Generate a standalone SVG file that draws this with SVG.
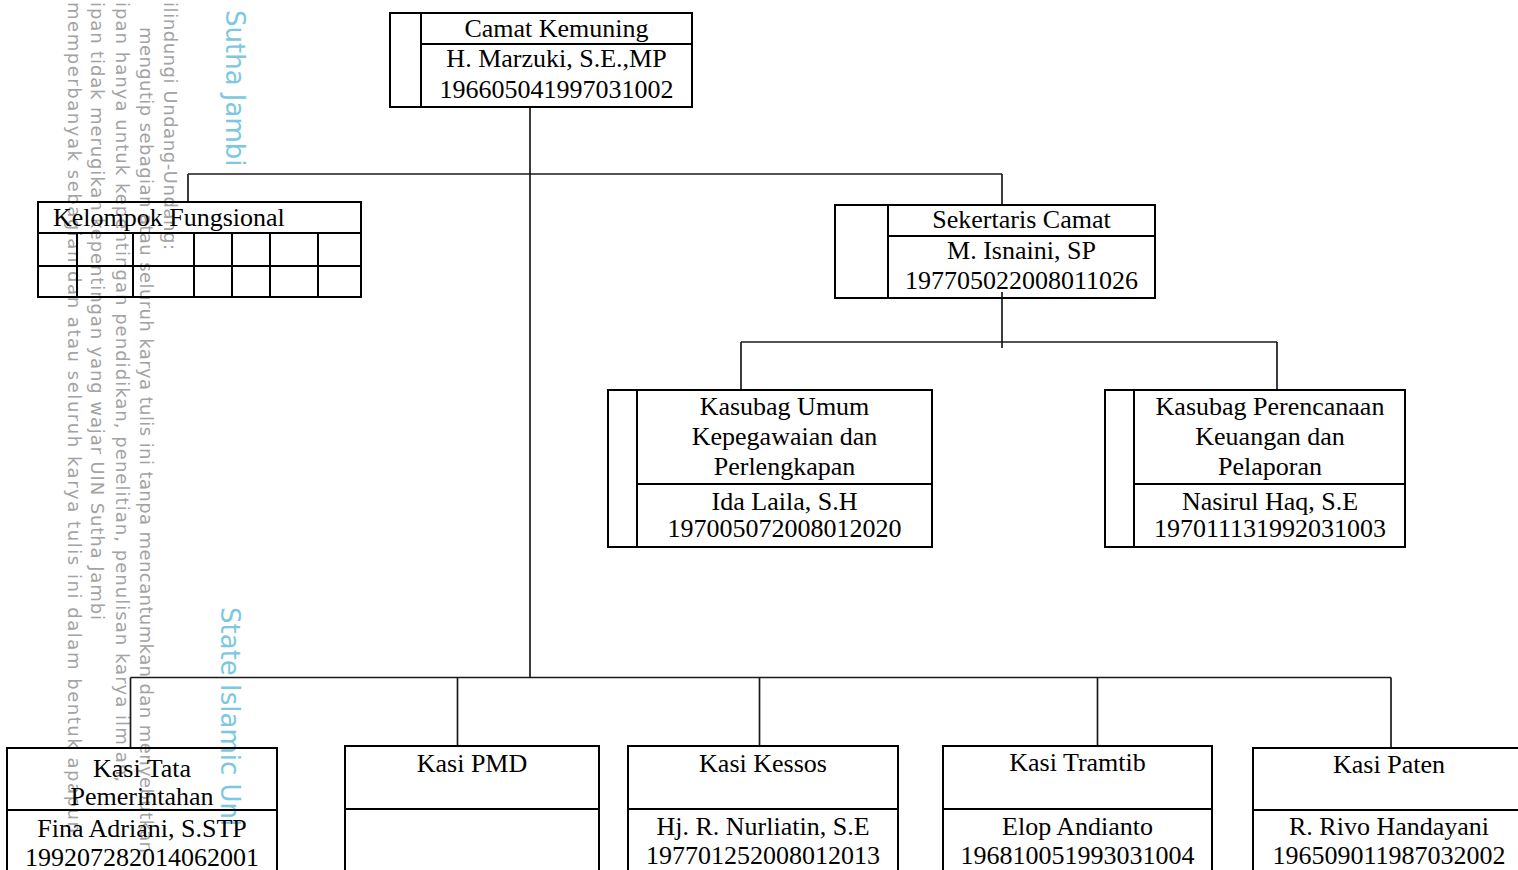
<svg xmlns="http://www.w3.org/2000/svg" width="1518" height="870" viewBox="0 0 1518 870">
<style>
.bg{fill:#ffffff}
.wm{font-family:"DejaVu Sans","Noto Sans",sans-serif;font-size:18px;fill:#a3a3a3}
.wb{font-family:"DejaVu Sans","Noto Sans",sans-serif;font-size:26px;fill:#7cc8df}
.box{fill:none;stroke:#000;stroke-width:2}
.ln{fill:none;stroke:#000;stroke-width:2}
.con{fill:none;stroke:#1a1a1a;stroke-width:1.7}
.t{font-family:"Liberation Serif","Times New Roman",serif;font-size:26px;fill:#000;text-anchor:middle}
.ts{font-family:"Liberation Serif","Times New Roman",serif;font-size:26px;fill:#000;text-anchor:start}
</style>
<rect class="bg" x="0" y="0" width="1518" height="870"/>

<g id="watermark">
<text class="wm" transform="translate(164,2) rotate(90)" textLength="248">ilindungi Undang-Undang:</text>
<text class="wm" transform="translate(140,27) rotate(90)" textLength="826">mengutip sebagian atau seluruh karya tulis ini tanpa mencantumkan dan menyebutkan</text>
<text class="wm" transform="translate(116,2) rotate(90)" textLength="780">ipan hanya untuk kepentingan pendidikan, penelitian, penulisan karya ilmiah,</text>
<text class="wm" transform="translate(91,2) rotate(90)" textLength="618">ipan tidak merugikan kepentingan yang wajar UIN Sutha Jambi</text>
<text class="wm" transform="translate(68,2) rotate(90)" textLength="831">memperbanyak sebagian dan atau seluruh karya tulis ini dalam bentuk apapun</text>
<text class="wb" transform="translate(226,10) rotate(90)">Sutha Jambi</text>
<text class="wb" transform="translate(221,607) rotate(90)">State Islamic Uni</text>
</g>

<g id="connectors">
<line class="con" x1="530" y1="107" x2="530" y2="678"/>
<line class="con" x1="188" y1="174" x2="1002" y2="174"/>
<line class="con" x1="188" y1="174" x2="188" y2="202"/>
<line class="con" x1="1002" y1="174" x2="1002" y2="205"/>
<line class="con" x1="1002" y1="292" x2="1002" y2="348"/>
<line class="con" x1="741" y1="342" x2="1277" y2="342"/>
<line class="con" x1="741" y1="342" x2="741" y2="390"/>
<line class="con" x1="1277" y1="342" x2="1277" y2="390"/>
<line class="con" x1="130.5" y1="677.5" x2="1391" y2="677.5"/>
<line class="con" x1="130.5" y1="677.5" x2="130.5" y2="748"/>
<line class="con" x1="457.5" y1="677.5" x2="457.5" y2="746"/>
<line class="con" x1="759.5" y1="677.5" x2="759.5" y2="746"/>
<line class="con" x1="1097.5" y1="677.5" x2="1097.5" y2="746"/>
<line class="con" x1="1391" y1="677.5" x2="1391" y2="748"/>
</g>

<g id="camat">
<rect class="box" x="390" y="13" width="302" height="94"/>
<line class="ln" x1="421" y1="13" x2="421" y2="107"/>
<line class="ln" x1="421" y1="44" x2="692" y2="44"/>
<text class="t" x="556.5" y="37">Camat Kemuning</text>
<text class="t" x="556.5" y="67">H. Marzuki, S.E.,MP</text>
<text class="t" x="556.5" y="98">196605041997031002</text>
</g>

<g id="kelompok">
<rect class="box" x="38" y="202" width="323" height="95"/>
<line class="ln" x1="38" y1="233" x2="361" y2="233"/>
<line class="ln" x1="38" y1="266" x2="361" y2="266"/>
<line class="ln" x1="77" y1="233" x2="77" y2="297"/>
<line class="ln" x1="133" y1="233" x2="133" y2="297"/>
<line class="ln" x1="194" y1="233" x2="194" y2="297"/>
<line class="ln" x1="232" y1="233" x2="232" y2="297"/>
<line class="ln" x1="270" y1="233" x2="270" y2="297"/>
<line class="ln" x1="318" y1="233" x2="318" y2="297"/>
<text class="ts" x="53" y="226">Kelompok Fungsional</text>
</g>

<g id="sekertaris">
<rect class="box" x="835" y="205" width="320" height="93"/>
<line class="ln" x1="888" y1="205" x2="888" y2="298"/>
<line class="ln" x1="888" y1="236" x2="1155" y2="236"/>
<text class="t" x="1021.5" y="228">Sekertaris Camat</text>
<text class="t" x="1021.5" y="259">M. Isnaini, SP</text>
<text class="t" x="1021.5" y="289">197705022008011026</text>
</g>

<g id="kasubag-umum">
<rect class="box" x="608" y="390" width="324" height="157"/>
<line class="ln" x1="637" y1="390" x2="637" y2="547"/>
<line class="ln" x1="637" y1="484" x2="932" y2="484"/>
<text class="t" x="784.5" y="415">Kasubag Umum</text>
<text class="t" x="784.5" y="445">Kepegawaian dan</text>
<text class="t" x="784.5" y="475">Perlengkapan</text>
<text class="t" x="784.5" y="510">Ida Laila, S.H</text>
<text class="t" x="784.5" y="537">197005072008012020</text>
</g>

<g id="kasubag-perencanaan">
<rect class="box" x="1105" y="390" width="300" height="157"/>
<line class="ln" x1="1134" y1="390" x2="1134" y2="547"/>
<line class="ln" x1="1134" y1="484" x2="1405" y2="484"/>
<text class="t" x="1270" y="415">Kasubag Perencanaan</text>
<text class="t" x="1270" y="445">Keuangan dan</text>
<text class="t" x="1270" y="475">Pelaporan</text>
<text class="t" x="1270" y="510">Nasirul Haq, S.E</text>
<text class="t" x="1270" y="537">197011131992031003</text>
</g>

<g id="kasi-tata">
<rect class="box" x="7" y="748" width="270" height="140"/>
<line class="ln" x1="7" y1="810" x2="277" y2="810"/>
<text class="t" x="142" y="777">Kasi Tata</text>
<text class="t" x="142" y="805">Pemerintahan</text>
<text class="t" x="142" y="837">Fina Adriani, S.STP</text>
<text class="t" x="142" y="866">199207282014062001</text>
</g>

<g id="kasi-pmd">
<rect class="box" x="345" y="746" width="254" height="140"/>
<line class="ln" x1="345" y1="809" x2="599" y2="809"/>
<text class="t" x="472" y="772">Kasi PMD</text>
</g>

<g id="kasi-kessos">
<rect class="box" x="628" y="746" width="270" height="140"/>
<line class="ln" x1="628" y1="809" x2="898" y2="809"/>
<text class="t" x="763" y="772">Kasi Kessos</text>
<text class="t" x="763" y="835">Hj. R. Nurliatin, S.E</text>
<text class="t" x="763" y="864">197701252008012013</text>
</g>

<g id="kasi-tramtib">
<rect class="box" x="943" y="746" width="269" height="140"/>
<line class="ln" x1="943" y1="809" x2="1212" y2="809"/>
<text class="t" x="1077.5" y="771">Kasi Tramtib</text>
<text class="t" x="1077.5" y="835">Elop Andianto</text>
<text class="t" x="1077.5" y="864">196810051993031004</text>
</g>

<g id="kasi-paten">
<rect class="box" x="1253" y="748" width="272" height="140"/>
<line class="ln" x1="1253" y1="810" x2="1525" y2="810"/>
<text class="t" x="1389" y="773">Kasi Paten</text>
<text class="t" x="1389" y="835">R. Rivo Handayani</text>
<text class="t" x="1389" y="864">196509011987032002</text>
</g>
</svg>
